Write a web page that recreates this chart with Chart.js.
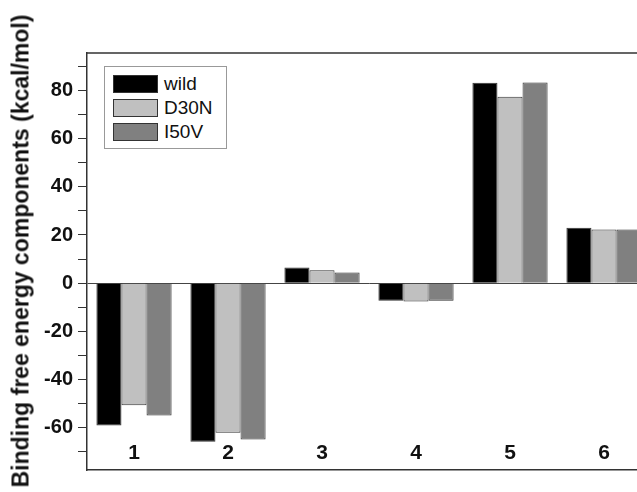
<!DOCTYPE html>
<html>
<head>
<meta charset="utf-8">
<script src="https://cdn.jsdelivr.net/npm/chart.js@4"></script>
<style>
  html, body { margin: 0; padding: 0; background: #fff; overflow: hidden; }
  #wrap { position: relative; width: 637px; height: 492px; overflow: hidden; }
  #leyenda {
    position: absolute; left: 104px; top: 66px; width: 121px; height: 81px;
    border: 1px solid #999; background: #fff;
    font-family: "Liberation Sans", Arial, sans-serif; font-size: 19px; color: #111;
  }
  .fila { position: absolute; left: 8px; height: 18px; display: flex; align-items: center; }
  .caja { width: 43px; height: 16px; border: 1px solid #333; margin-right: 6px; }
  #titulo {
    position: absolute; left: 20.5px; top: 250.5px;
    transform: translate(-50%, -50%) rotate(-90deg);
    white-space: nowrap; line-height: 1;
    font-family: "Liberation Sans", Arial, sans-serif; font-weight: bold; font-size: 23px; color: #111;
  }
</style>
</head>
<body>
<div id="wrap">
  <canvas id="grafico" width="660" height="492"></canvas>
  <div id="leyenda"></div>
  <div id="titulo">Binding free energy components (kcal/mol)</div>
</div>
<script>
const categorias = ["1", "2", "3", "4", "5", "6"];
const series = ["wild", "D30N", "I50V"];
const wild = [-59.0, -65.8, 6.5, -7.3, 83.2, 23.0];
const d30n = [-50.6, -62.0, 5.4, -7.6, 77.3, 22.3];
const i50v = [-54.9, -64.8, 4.4, -7.3, 83.3, 22.3];
const colores = ["#000000", "#c0c0c0", "#808080"];
const valores = [wild, d30n, i50v];

// marco superior / derecho del area de trazado
const marco = {
    id: "marco",
    afterDraw(chart) {
        const { ctx, chartArea: a } = chart;
        ctx.save();
        ctx.strokeStyle = "#333";
        ctx.lineWidth = 1.5;
        ctx.beginPath();
        ctx.moveTo(a.left, a.top);
        ctx.lineTo(a.right, a.top);
        ctx.lineTo(a.right, a.bottom);
        ctx.stroke();
        ctx.restore();
    }
};

new Chart(document.getElementById("grafico").getContext("2d"), {
    type: "bar",
    data: {
        labels: categorias,
        datasets: series.map((nombre, i) => ({
            label: nombre,
            data: valores[i],
            backgroundColor: colores[i],
            borderColor: "#333",
            borderWidth: 1,
            barPercentage: 1,
            categoryPercentage: 0.8
        }))
    },
    options: {
        responsive: false,
        animation: false,
        layout: { padding: { left: 0, top: 53, right: 9, bottom: 22 } },
        plugins: { legend: { display: false }, tooltip: { enabled: false } },
        scales: {
            x: {
                grid: { display: false, drawTicks: false },
                border: { display: true, color: "#333", width: 1.5 },
                ticks: {
                    mirror: true,
                    color: "#111",
                    padding: 4,
                    font: { family: "'Liberation Sans', Arial, sans-serif", size: 21, weight: "bold" }
                },
                afterFit(scale) { scale.height = 0; }
            },
            y: {
                min: -77.5,
                max: 95.5,
                ticks: {
                    stepSize: 10,
                    autoSkip: false,
                    maxTicksLimit: 30,
                    includeBounds: false,
                    padding: 5,
                    color: "#111",
                    font: { family: "'Liberation Sans', Arial, sans-serif", size: 20, weight: "bold" },
                    callback: v => (v % 20 === 0 ? String(v) : "")
                },
                grid: {
                    drawOnChartArea: true,
                    tickLength: 9,
                    color: c => (c.tick && c.tick.value === 0 ? "#444" : "rgba(0,0,0,0)"),
                    tickColor: "#333"
                },
                border: { display: true, color: "#333", width: 1.5 },
                afterFit(scale) { scale.width = 87; }
            }
        }
    },
    plugins: [marco]
});

// leyenda dentro del grafico
const leyenda = document.getElementById("leyenda");
series.forEach((nombre, i) => {
    const fila = document.createElement("div");
    fila.className = "fila";
    fila.style.top = (8 + i * 24) + "px";
    fila.innerHTML = `<div class="caja" style="background:${colores[i]}"></div><span>${nombre}</span>`;
    leyenda.appendChild(fila);
});
</script>
</body>
</html>
